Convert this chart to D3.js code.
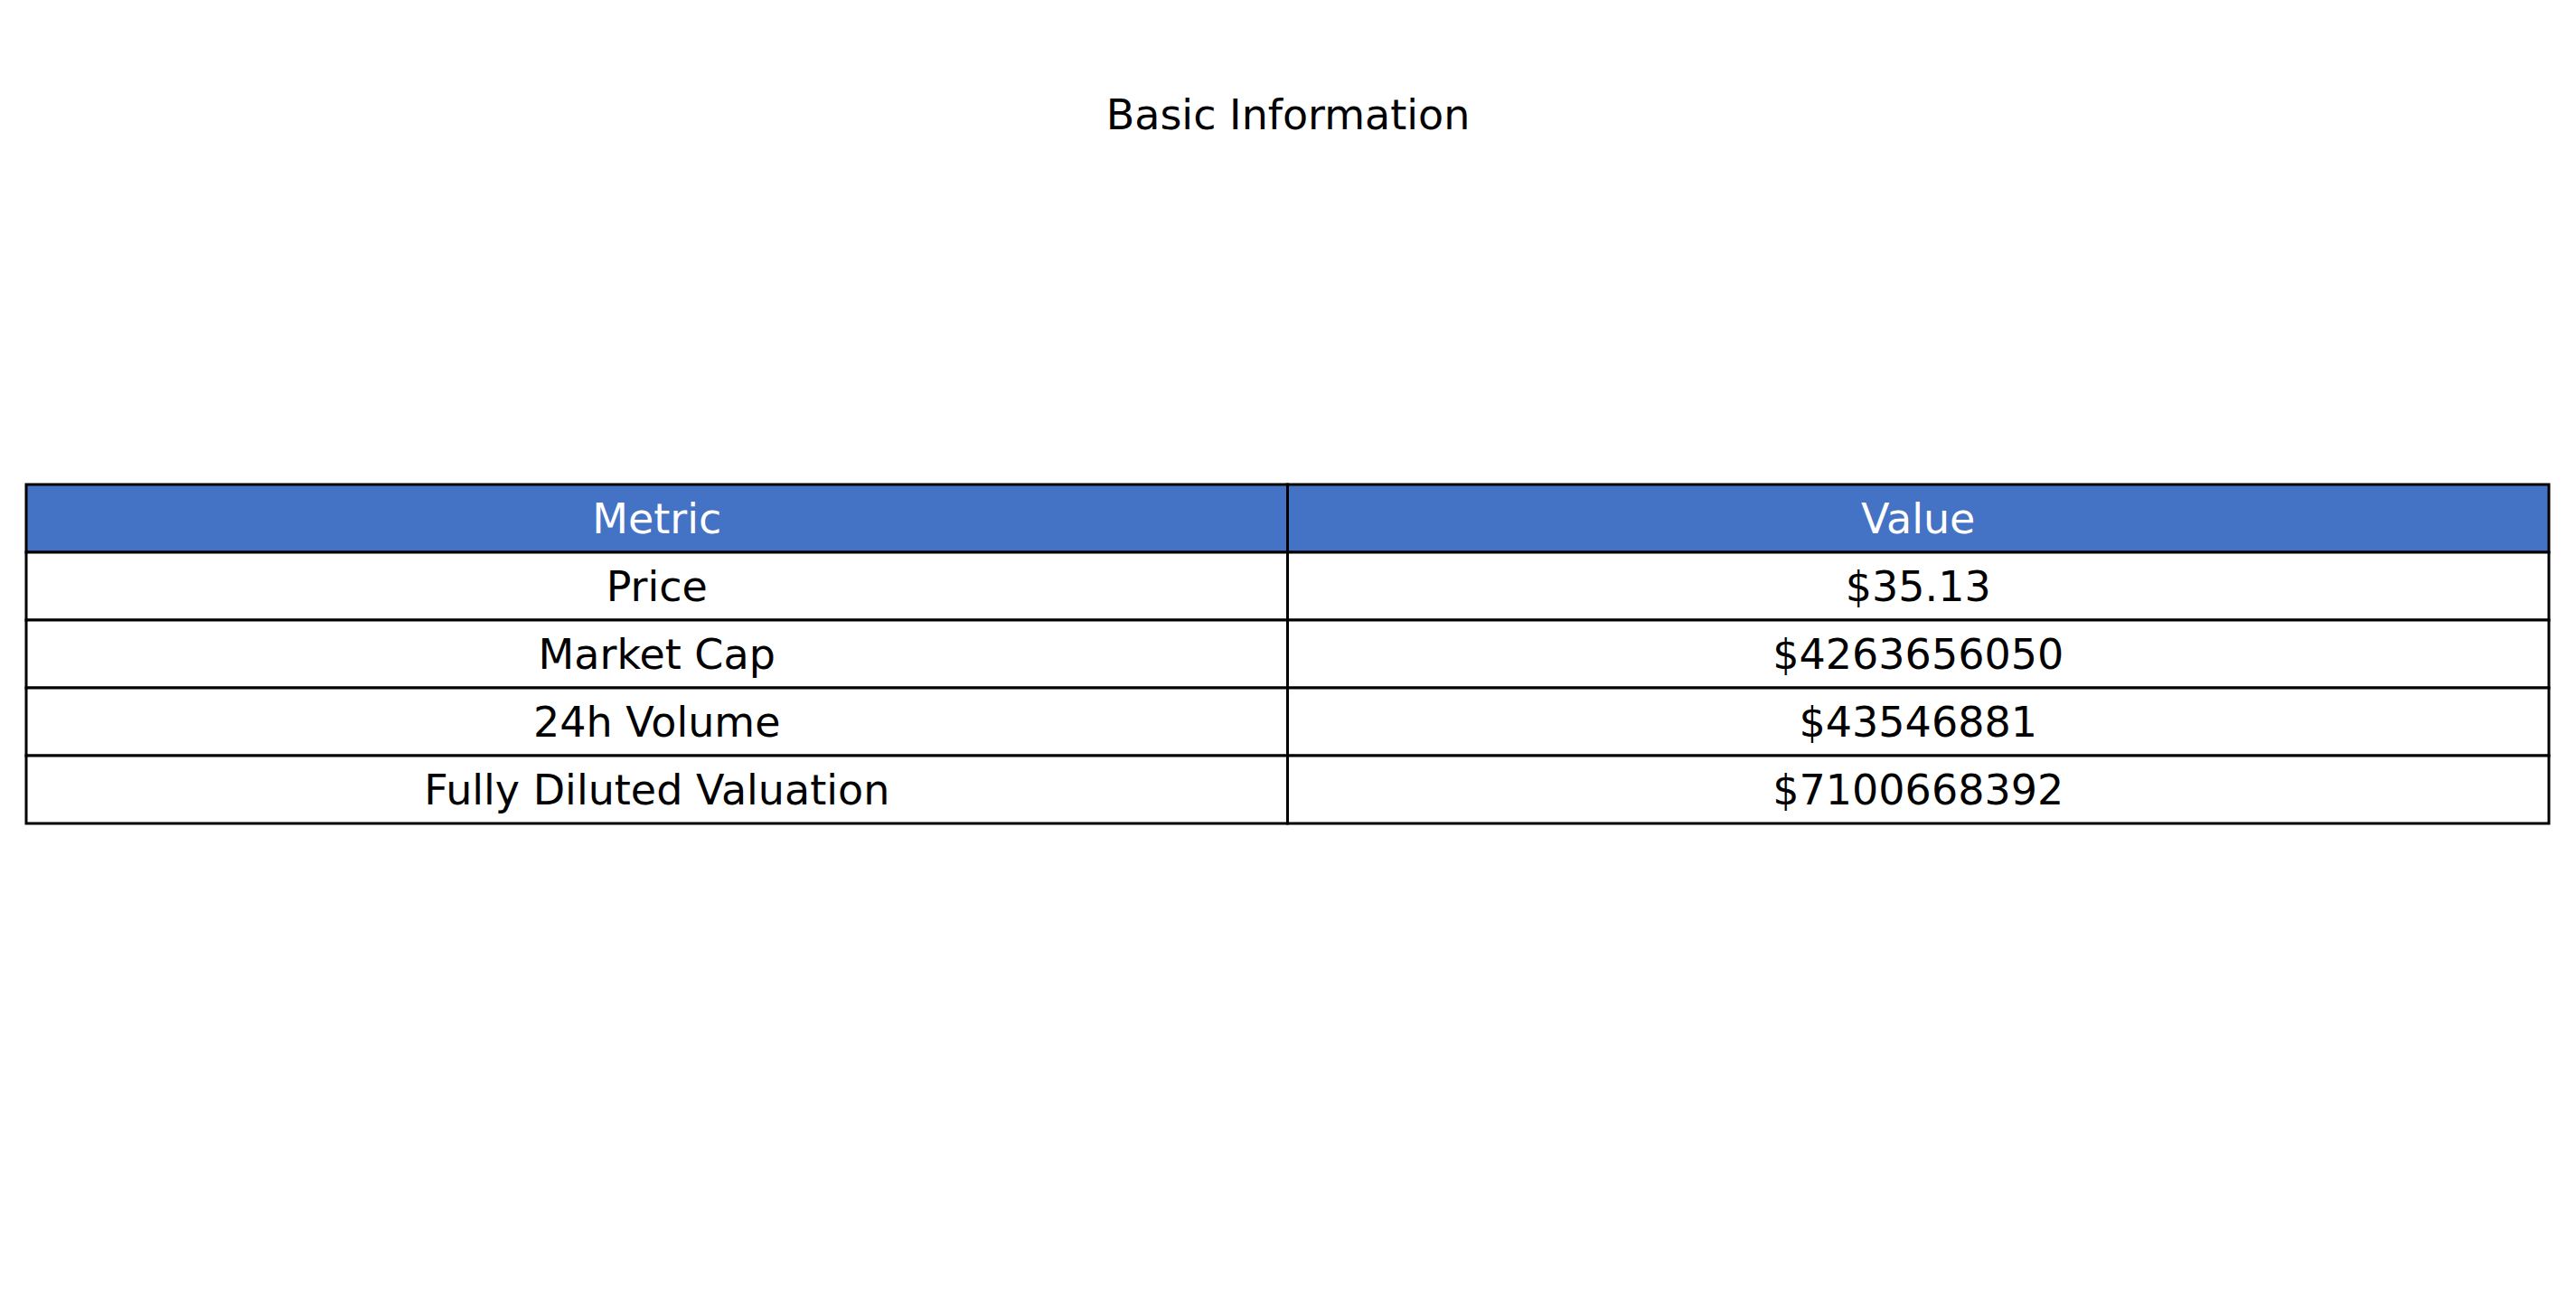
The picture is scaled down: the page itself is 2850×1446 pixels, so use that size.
<!DOCTYPE html>
<html><head><meta charset="utf-8">
<script src="https://cdn.jsdelivr.net/npm/d3@7"></script>
<style>body{margin:0;background:#fff}</style>
</head><body>
<script>
var title = "Basic Information";
var columns = ["Metric", "Value"];
var metrics = ["Price", "Market Cap", "24h Volume", "Fully Diluted Valuation"];
var values = ["$35.13", "$4263656050", "$43546881", "$7100668392"];

var W = 2850, H = 1446;
var left = 29, right = 2820, top0 = 536, rowH = 75;

var svg = d3.select("body").append("svg")
  .attr("width", W).attr("height", H)
  .style("font-family", "DejaVu Sans");

svg.append("text").attr("x", W / 2).attr("y", 127)
  .attr("text-anchor", "middle").attr("dominant-baseline", "central")
  .attr("font-size", 46).text(title);

var x = d3.scaleBand().domain(columns).range([left, right]);
var rows = [columns].concat(metrics.map(function (m, i) { return [m, values[i]]; }));
var y = d3.scaleBand().domain(d3.range(rows.length)).range([top0, top0 + rowH * rows.length]);

rows.forEach(function (r, i) {
  columns.forEach(function (c, j) {
    svg.append("rect")
      .attr("x", x(c)).attr("y", y(i))
      .attr("width", x.bandwidth()).attr("height", y.bandwidth())
      .attr("fill", i === 0 ? "#4472c4" : "#fff")
      .attr("stroke", "#000").attr("stroke-width", 3);
    svg.append("text")
      .attr("x", x(c) + x.bandwidth() / 2).attr("y", y(i) + y.bandwidth() / 2)
      .attr("text-anchor", "middle").attr("dominant-baseline", "central")
      .attr("font-size", 46)
      .attr("fill", i === 0 ? "#fff" : "#000")
      .text(r[j]);
  });
});
</script>
</body></html>
